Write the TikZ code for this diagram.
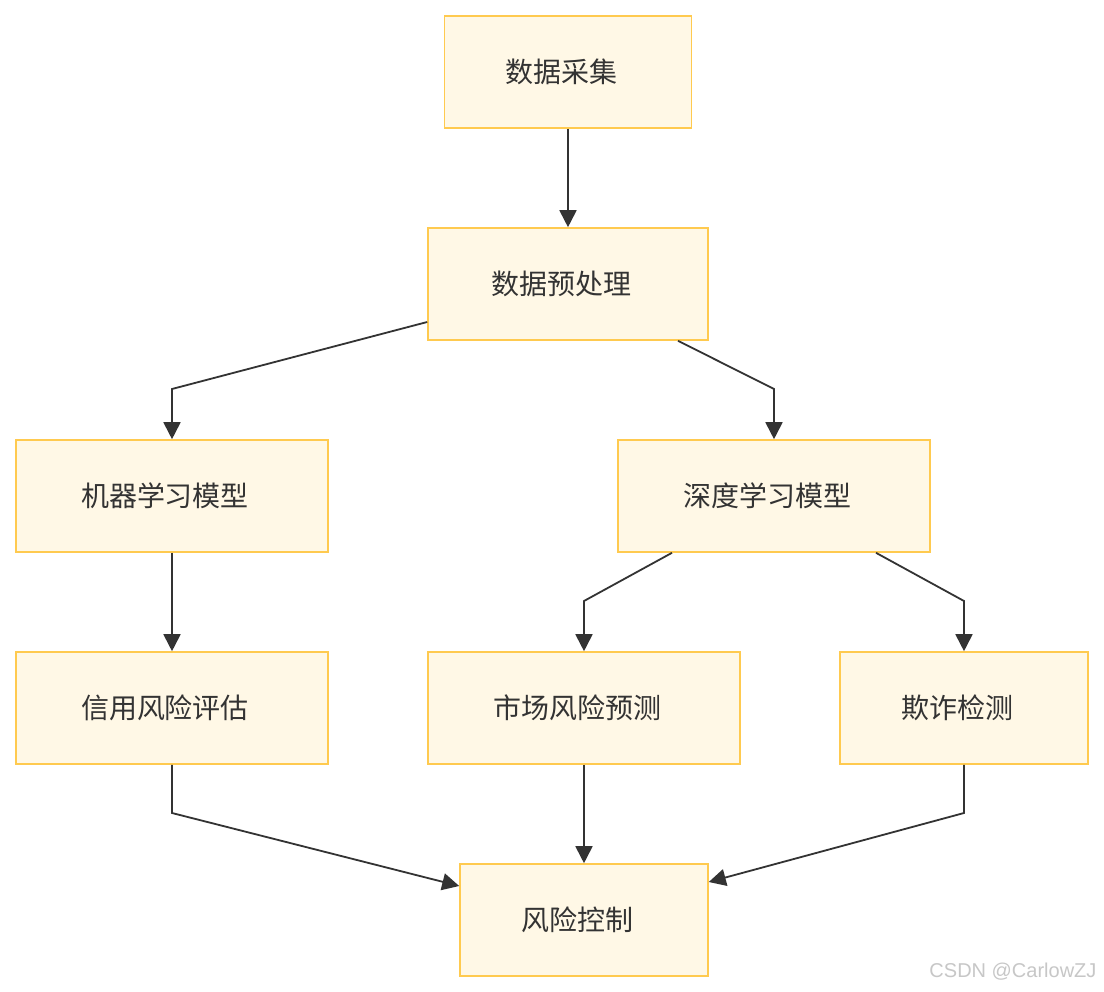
\documentclass[tikz,border=0pt]{standalone}
\usepackage{fontspec}
\newfontfamily\cjk{Noto Sans CJK SC}
\setsansfont{Liberation Sans}
\usetikzlibrary{arrows.meta,calc}
\definecolor{boxfill}{HTML}{FFF8E6}
\definecolor{boxdraw}{HTML}{FFCA4F}
\definecolor{linecol}{HTML}{333333}
\definecolor{txt}{HTML}{333333}
\begin{document}
\begin{tikzpicture}[x=1pt,y=-1pt,
  box/.style={draw=boxdraw,fill=boxfill,line width=1.6pt,inner sep=0pt,
    font=\cjk\fontsize{28}{32}\selectfont,text=txt},
  edge/.style={draw=linecol,line width=1.8pt,-{Triangle[length=17pt,width=17pt]}}]
\useasboundingbox (0,0) rectangle (1104,992);
\fill[white] (0,0) rectangle (1104,992);
\newcommand{\bx}[1]{#1\kern14pt}
\node[box,minimum width=247pt,minimum height=112pt] (A) at (568,72) {\bx{数据采集}};
\node[box,minimum width=280pt,minimum height=112pt] (B) at (568,284) {\bx{数据预处理}};
\node[box,minimum width=312pt,minimum height=112pt] (C) at (172,496) {\bx{机器学习模型}};
\node[box,minimum width=312pt,minimum height=112pt] (D) at (774,496) {\bx{深度学习模型}};
\node[box,minimum width=312pt,minimum height=112pt] (E) at (172,708) {\bx{信用风险评估}};
\node[box,minimum width=312pt,minimum height=112pt] (F) at (584,708) {\bx{市场风险预测}};
\node[box,minimum width=248pt,minimum height=112pt] (G) at (964,708) {\bx{欺诈检测}};
\node[box,minimum width=248pt,minimum height=112pt] (H) at (584,920) {\bx{风险控制}};
\coordinate (bc) at (172,389);
\coordinate (bd) at (774,389);
\coordinate (df) at (584,601);
\coordinate (dg) at (964,601);
\coordinate (eh) at (172,813);
\coordinate (gh) at (964,813);
\draw[edge] (A.south) -- (B.north);
\draw[edge] ($(B.west)+(0,38)$) -- (bc) -- (C.north);
\draw[edge] ($(B.south)+(110,0)$) -- (bd) -- (D.north);
\draw[edge] (C.south) -- (E.north);
\draw[edge] ($(D.south)+(-102,0)$) -- (df) -- (F.north);
\draw[edge] ($(D.south)+(102,0)$) -- (dg) -- (G.north);
\draw[edge] (E.south) -- (eh) -- ($(H.west)+(0,-34)$);
\draw[edge] (F.south) -- (H.north);
\draw[edge] (G.south) -- (gh) -- ($(H.east)+(0,-38)$);
\node[text=black!22,font=\sffamily\fontsize{20}{24}\selectfont,anchor=east] (wm) at (1100,972) {CSDN @CarlowZJ};
\end{tikzpicture}
\end{document}
